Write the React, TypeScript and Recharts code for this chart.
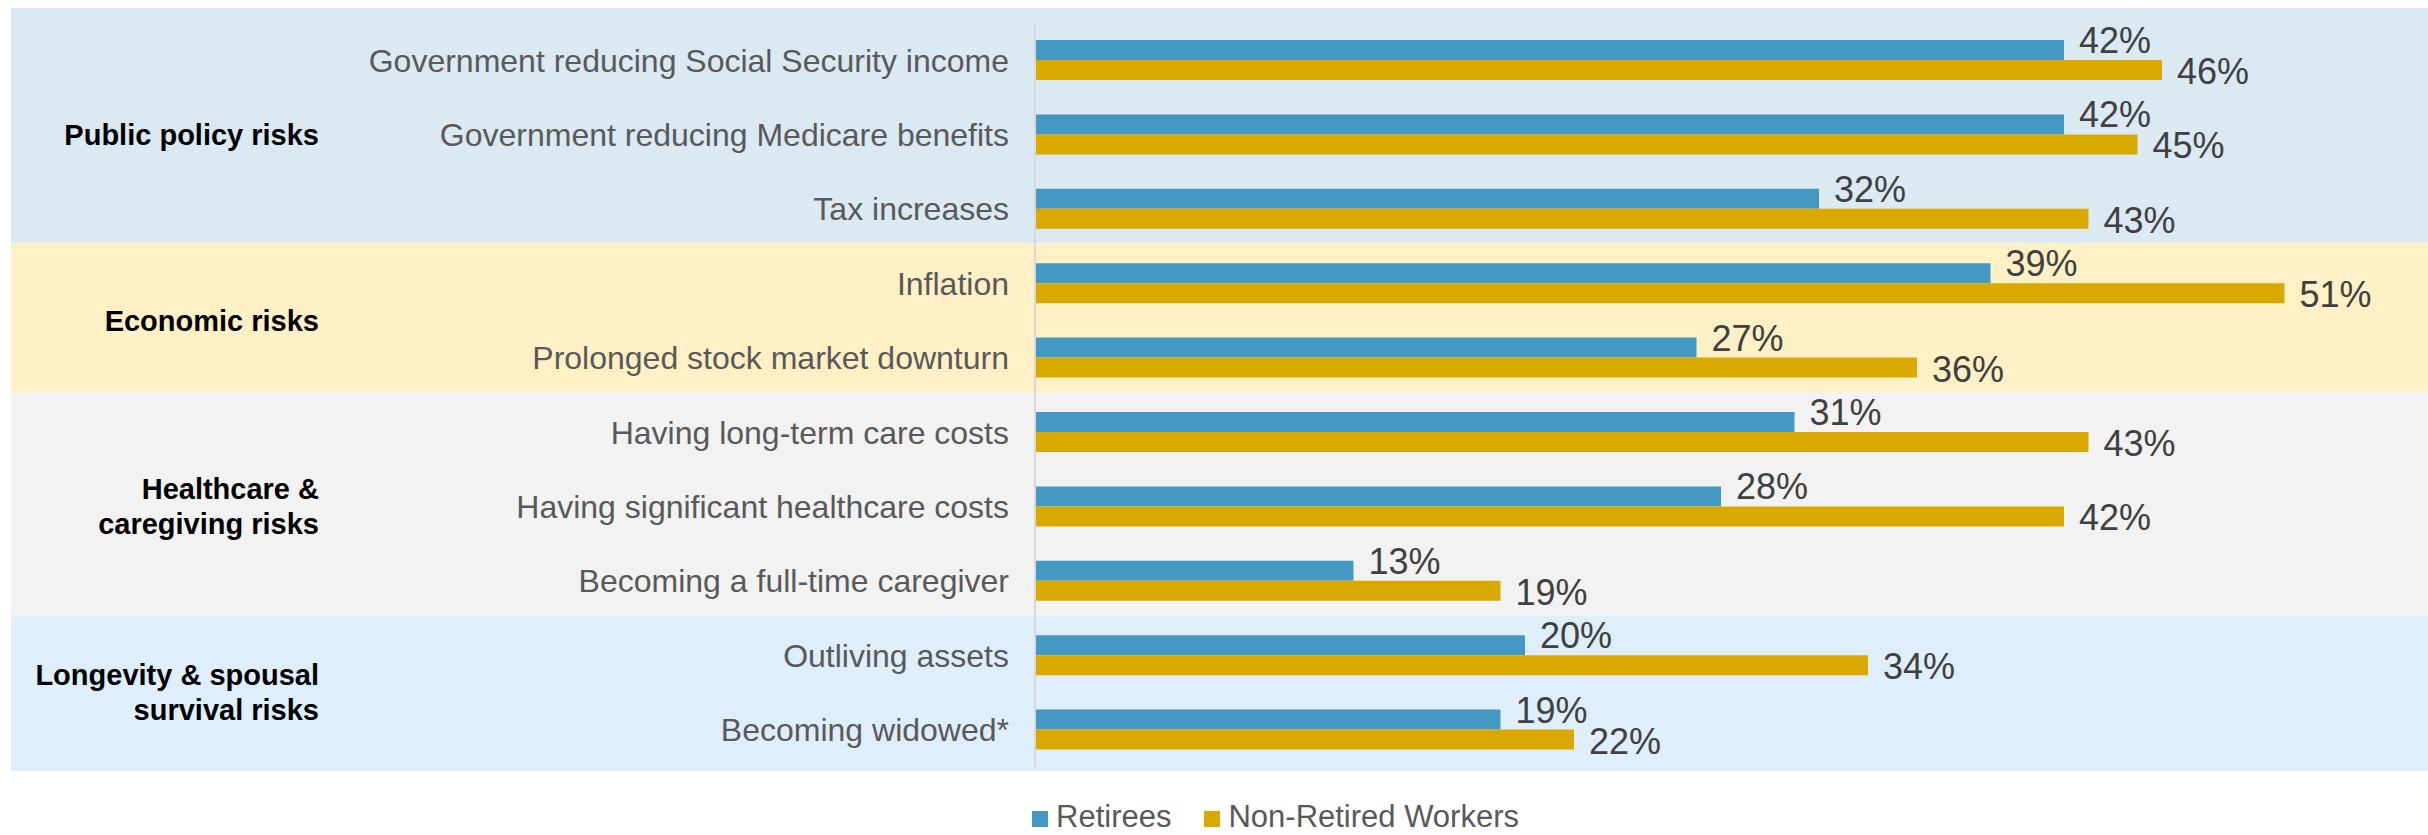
import { BarChart, Bar, XAxis, YAxis, ReferenceArea, LabelList, Legend } from 'recharts'

const categories = [
  'Government reducing Social Security income',
  'Government reducing Medicare benefits',
  'Tax increases',
  'Inflation',
  'Prolonged stock market downturn',
  'Having long-term care costs',
  'Having significant healthcare costs',
  'Becoming a full-time caregiver',
  'Outliving assets',
  'Becoming widowed*',
]
const retirees = [42, 42, 32, 39, 27, 31, 28, 13, 20, 19]
const workers = [46, 45, 43, 51, 36, 43, 42, 19, 34, 22]
const seriesNames = ['Retirees', 'Non-Retired Workers']

// risk groups: label lines and the first/last category index they cover
const groupLabels = [
  ['Public policy risks'],
  ['Economic risks'],
  ['Healthcare &', 'caregiving risks'],
  ['Longevity & spousal', 'survival risks'],
]
const groupSpans = [
  [0, 2],
  [3, 4],
  [5, 7],
  [8, 9],
]

const rows = categories.map((name, i) => ({ name, retirees: retirees[i], workers: workers[i] }))

const BLUE = '#4399C3'
const GOLD = '#D9A900'
const bandFills = ['#DAE9F2', '#FFF1C5', '#F2F2F2', '#DFEEFB']
const FONT = '"Liberation Sans", Arial, Helvetica, sans-serif'

type BandProps = { y: number; height: number; index: number }

function GroupBand({ y, height, index }: BandProps) {
  const last = groupSpans.length - 1
  const top = index === 0 ? 8 : y - 3
  const bottom = index === last ? y + height + 4 : y + height - 3
  const lines = groupLabels[index]
  const mid = y + height / 2
  const lh = 35
  return (
    <g>
      <rect x={11} y={top} width={2417} height={bottom - top} fill={bandFills[index]} />
      <text textAnchor="end" fontSize={29} fontWeight="bold" fill="#000000" fontFamily={FONT}>
        {lines.map((line, k) => (
          <tspan key={k} x={319} y={mid + (k - (lines.length - 1) / 2) * lh + 10}>
            {line}
          </tspan>
        ))}
      </text>
    </g>
  )
}

// percentage to the right of a bar; `lift` raises it above the bar's centre
function valueLabel(lift: number) {
  return (p: any) => {
    const x = Number(p.x) + Number(p.width) + 15
    const y = Number(p.y) + Number(p.height) / 2 + 13 - lift
    return (
      <text x={x} y={y} fontSize={36} fill="#404040" fontFamily={FONT}>
        {`${p.value}%`}
      </text>
    )
  }
}

function LegendContent({ payload }: { payload?: Array<{ value: string; color: string }> }) {
  const items = [...(payload ?? [])].sort(
    (a, b) => seriesNames.indexOf(a.value) - seriesNames.indexOf(b.value),
  )
  return (
    <div style={{ display: 'flex', alignItems: 'center', gap: 33, fontFamily: FONT }}>
      {items.map((entry) => (
        <div key={entry.value} style={{ display: 'flex', alignItems: 'center', gap: 8 }}>
          <span
            style={{
              width: 16,
              height: 16,
              background: entry.color,
              display: 'inline-block',
              position: 'relative',
              top: 2,
            }}
          />
          <span style={{ fontSize: 31, lineHeight: '27px', color: '#595959', whiteSpace: 'nowrap' }}>
            {entry.value}
          </span>
        </div>
      ))}
    </div>
  )
}

export default function App() {
  return (
    <div
      style={{
        position: 'absolute',
        left: 0,
        top: 0,
        width: 2428,
        height: 835,
        background: '#ffffff',
        fontFamily: FONT,
        overflow: 'hidden',
      }}
    >
      <BarChart
        width={2428}
        height={835}
        data={rows}
        layout="vertical"
        margin={{ top: 23, right: 21, bottom: 68, left: 0 }}
        barGap={0}
        barSize={20}
      >
        {groupSpans.map(([a, b], i) => (
          <ReferenceArea
            key={i}
            y1={categories[a]}
            y2={categories[b]}
            ifOverflow="visible"
            shape={(p: any) => <GroupBand y={p.y} height={p.height} index={i} />}
          />
        ))}
        <XAxis type="number" domain={[0, 56]} hide />
        <YAxis
          type="category"
          dataKey="name"
          width={1035}
          tickSize={0}
          tickMargin={26}
          tickLine={false}
          axisLine={{ stroke: '#D9D9D9', strokeWidth: 2 }}
          tick={{ fontSize: 32, fill: '#595959', fontFamily: FONT }}
          interval={0}
        />
        <Bar dataKey="retirees" name={seriesNames[0]} fill={BLUE} isAnimationActive={false}>
          <LabelList dataKey="retirees" content={valueLabel(10)} />
        </Bar>
        <Bar dataKey="workers" name={seriesNames[1]} fill={GOLD} isAnimationActive={false}>
          <LabelList dataKey="workers" content={valueLabel(-1)} />
        </Bar>
        <Legend
          layout="horizontal"
          verticalAlign="middle"
          align="center"
          content={<LegendContent />}
          wrapperStyle={{ left: 1032, top: 803, width: 'auto' }}
        />
      </BarChart>
    </div>
  )
}
